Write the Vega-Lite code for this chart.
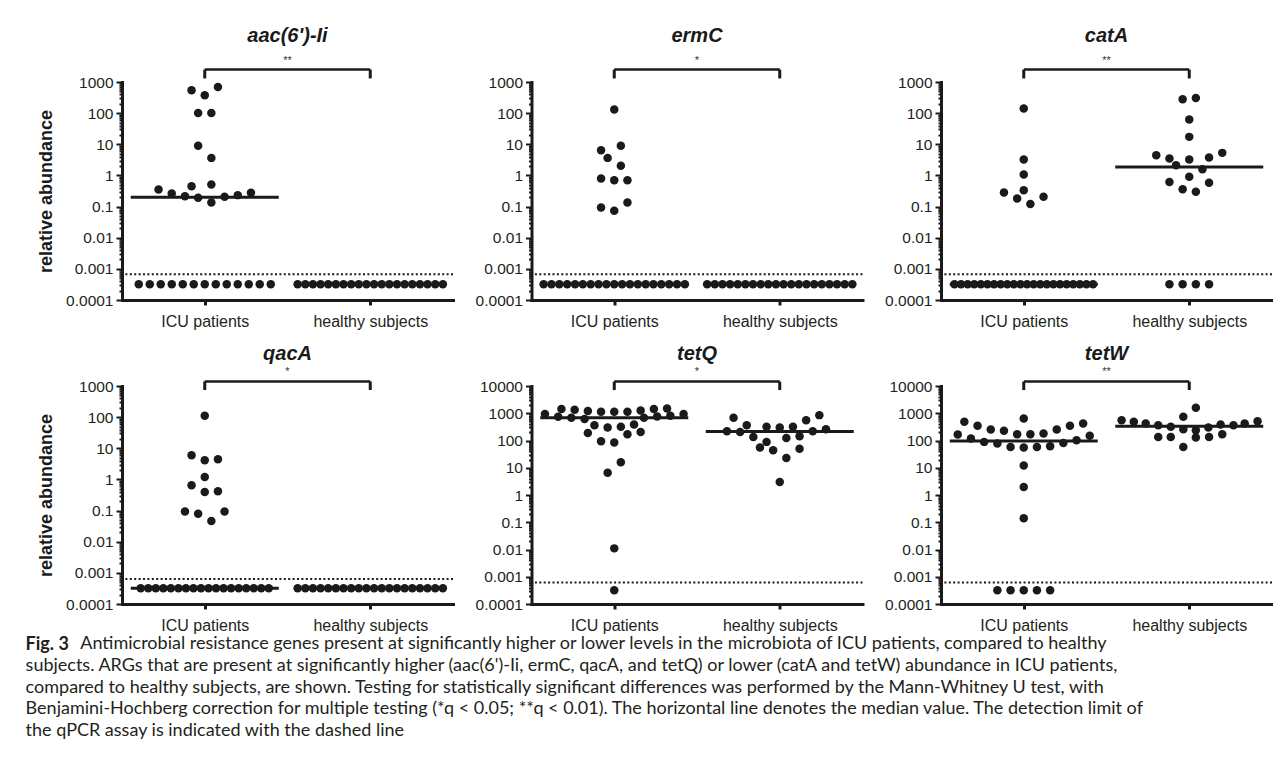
{
  "$schema": "https://vega.github.io/schema/vega-lite/v6.json",
  "background": "white",
  "padding": {"left": 25, "top": 26, "right": 0, "bottom": 0},
  "datasets": {
    "points": [
      {"gene":"aac","group":"ICU patients","value":542,"swarm":-2},
      {"gene":"aac","group":"ICU patients","value":375,"swarm":0},
      {"gene":"aac","group":"ICU patients","value":692,"swarm":2},
      {"gene":"aac","group":"ICU patients","value":101,"swarm":-1},
      {"gene":"aac","group":"ICU patients","value":101,"swarm":1},
      {"gene":"aac","group":"ICU patients","value":8.9,"swarm":-1},
      {"gene":"aac","group":"ICU patients","value":3.66,"swarm":1},
      {"gene":"aac","group":"ICU patients","value":0.355,"swarm":-7},
      {"gene":"aac","group":"ICU patients","value":0.264,"swarm":-5},
      {"gene":"aac","group":"ICU patients","value":0.216,"swarm":-3},
      {"gene":"aac","group":"ICU patients","value":0.453,"swarm":-2},
      {"gene":"aac","group":"ICU patients","value":0.191,"swarm":-1},
      {"gene":"aac","group":"ICU patients","value":0.513,"swarm":1},
      {"gene":"aac","group":"ICU patients","value":0.136,"swarm":1},
      {"gene":"aac","group":"ICU patients","value":0.206,"swarm":3},
      {"gene":"aac","group":"ICU patients","value":0.233,"swarm":5},
      {"gene":"aac","group":"ICU patients","value":0.276,"swarm":7},
      {"gene":"aac","group":"ICU patients","value":0.00032,"swarm":-10},
      {"gene":"aac","group":"ICU patients","value":0.00032,"swarm":-8.33},
      {"gene":"aac","group":"ICU patients","value":0.00032,"swarm":-6.67},
      {"gene":"aac","group":"ICU patients","value":0.00032,"swarm":-5},
      {"gene":"aac","group":"ICU patients","value":0.00032,"swarm":-3.33},
      {"gene":"aac","group":"ICU patients","value":0.00032,"swarm":-1.67},
      {"gene":"aac","group":"ICU patients","value":0.00032,"swarm":0},
      {"gene":"aac","group":"ICU patients","value":0.00032,"swarm":1.67},
      {"gene":"aac","group":"ICU patients","value":0.00032,"swarm":3.33},
      {"gene":"aac","group":"ICU patients","value":0.00032,"swarm":5},
      {"gene":"aac","group":"ICU patients","value":0.00032,"swarm":6.67},
      {"gene":"aac","group":"ICU patients","value":0.00032,"swarm":8.33},
      {"gene":"aac","group":"ICU patients","value":0.00032,"swarm":10},
      {"gene":"aac","group":"healthy subjects","value":0.00032,"swarm":-11},
      {"gene":"aac","group":"healthy subjects","value":0.00032,"swarm":-9.84},
      {"gene":"aac","group":"healthy subjects","value":0.00032,"swarm":-8.68},
      {"gene":"aac","group":"healthy subjects","value":0.00032,"swarm":-7.53},
      {"gene":"aac","group":"healthy subjects","value":0.00032,"swarm":-6.37},
      {"gene":"aac","group":"healthy subjects","value":0.00032,"swarm":-5.21},
      {"gene":"aac","group":"healthy subjects","value":0.00032,"swarm":-4.05},
      {"gene":"aac","group":"healthy subjects","value":0.00032,"swarm":-2.89},
      {"gene":"aac","group":"healthy subjects","value":0.00032,"swarm":-1.74},
      {"gene":"aac","group":"healthy subjects","value":0.00032,"swarm":-0.58},
      {"gene":"aac","group":"healthy subjects","value":0.00032,"swarm":0.58},
      {"gene":"aac","group":"healthy subjects","value":0.00032,"swarm":1.74},
      {"gene":"aac","group":"healthy subjects","value":0.00032,"swarm":2.89},
      {"gene":"aac","group":"healthy subjects","value":0.00032,"swarm":4.05},
      {"gene":"aac","group":"healthy subjects","value":0.00032,"swarm":5.21},
      {"gene":"aac","group":"healthy subjects","value":0.00032,"swarm":6.37},
      {"gene":"aac","group":"healthy subjects","value":0.00032,"swarm":7.53},
      {"gene":"aac","group":"healthy subjects","value":0.00032,"swarm":8.68},
      {"gene":"aac","group":"healthy subjects","value":0.00032,"swarm":9.84},
      {"gene":"aac","group":"healthy subjects","value":0.00032,"swarm":11},

      {"gene":"ermC","group":"ICU patients","value":130,"swarm":0},
      {"gene":"ermC","group":"ICU patients","value":6.46,"swarm":-2},
      {"gene":"ermC","group":"ICU patients","value":8.9,"swarm":1},
      {"gene":"ermC","group":"ICU patients","value":3.66,"swarm":-1},
      {"gene":"ermC","group":"ICU patients","value":2.03,"swarm":1},
      {"gene":"ermC","group":"ICU patients","value":0.8,"swarm":-2},
      {"gene":"ermC","group":"ICU patients","value":0.705,"swarm":0},
      {"gene":"ermC","group":"ICU patients","value":0.705,"swarm":2},
      {"gene":"ermC","group":"ICU patients","value":0.094,"swarm":-2},
      {"gene":"ermC","group":"ICU patients","value":0.073,"swarm":0},
      {"gene":"ermC","group":"ICU patients","value":0.136,"swarm":2},
      {"gene":"ermC","group":"ICU patients","value":0.00032,"swarm":-10.7},
      {"gene":"ermC","group":"ICU patients","value":0.00032,"swarm":-9.51},
      {"gene":"ermC","group":"ICU patients","value":0.00032,"swarm":-8.32},
      {"gene":"ermC","group":"ICU patients","value":0.00032,"swarm":-7.13},
      {"gene":"ermC","group":"ICU patients","value":0.00032,"swarm":-5.94},
      {"gene":"ermC","group":"ICU patients","value":0.00032,"swarm":-4.76},
      {"gene":"ermC","group":"ICU patients","value":0.00032,"swarm":-3.57},
      {"gene":"ermC","group":"ICU patients","value":0.00032,"swarm":-2.38},
      {"gene":"ermC","group":"ICU patients","value":0.00032,"swarm":-1.19},
      {"gene":"ermC","group":"ICU patients","value":0.00032,"swarm":0},
      {"gene":"ermC","group":"ICU patients","value":0.00032,"swarm":1.19},
      {"gene":"ermC","group":"ICU patients","value":0.00032,"swarm":2.38},
      {"gene":"ermC","group":"ICU patients","value":0.00032,"swarm":3.57},
      {"gene":"ermC","group":"ICU patients","value":0.00032,"swarm":4.76},
      {"gene":"ermC","group":"ICU patients","value":0.00032,"swarm":5.94},
      {"gene":"ermC","group":"ICU patients","value":0.00032,"swarm":7.13},
      {"gene":"ermC","group":"ICU patients","value":0.00032,"swarm":8.32},
      {"gene":"ermC","group":"ICU patients","value":0.00032,"swarm":9.51},
      {"gene":"ermC","group":"ICU patients","value":0.00032,"swarm":10.7},
      {"gene":"ermC","group":"healthy subjects","value":0.00032,"swarm":-11},
      {"gene":"ermC","group":"healthy subjects","value":0.00032,"swarm":-9.84},
      {"gene":"ermC","group":"healthy subjects","value":0.00032,"swarm":-8.68},
      {"gene":"ermC","group":"healthy subjects","value":0.00032,"swarm":-7.53},
      {"gene":"ermC","group":"healthy subjects","value":0.00032,"swarm":-6.37},
      {"gene":"ermC","group":"healthy subjects","value":0.00032,"swarm":-5.21},
      {"gene":"ermC","group":"healthy subjects","value":0.00032,"swarm":-4.05},
      {"gene":"ermC","group":"healthy subjects","value":0.00032,"swarm":-2.89},
      {"gene":"ermC","group":"healthy subjects","value":0.00032,"swarm":-1.74},
      {"gene":"ermC","group":"healthy subjects","value":0.00032,"swarm":-0.58},
      {"gene":"ermC","group":"healthy subjects","value":0.00032,"swarm":0.58},
      {"gene":"ermC","group":"healthy subjects","value":0.00032,"swarm":1.74},
      {"gene":"ermC","group":"healthy subjects","value":0.00032,"swarm":2.89},
      {"gene":"ermC","group":"healthy subjects","value":0.00032,"swarm":4.05},
      {"gene":"ermC","group":"healthy subjects","value":0.00032,"swarm":5.21},
      {"gene":"ermC","group":"healthy subjects","value":0.00032,"swarm":6.37},
      {"gene":"ermC","group":"healthy subjects","value":0.00032,"swarm":7.53},
      {"gene":"ermC","group":"healthy subjects","value":0.00032,"swarm":8.68},
      {"gene":"ermC","group":"healthy subjects","value":0.00032,"swarm":9.84},
      {"gene":"ermC","group":"healthy subjects","value":0.00032,"swarm":11},

      {"gene":"catA","group":"ICU patients","value":140,"swarm":0},
      {"gene":"catA","group":"ICU patients","value":3.25,"swarm":0},
      {"gene":"catA","group":"ICU patients","value":1.07,"swarm":0},
      {"gene":"catA","group":"ICU patients","value":0.337,"swarm":0},
      {"gene":"catA","group":"ICU patients","value":0.284,"swarm":-3},
      {"gene":"catA","group":"ICU patients","value":0.183,"swarm":-1},
      {"gene":"catA","group":"ICU patients","value":0.12,"swarm":1},
      {"gene":"catA","group":"ICU patients","value":0.206,"swarm":3},
      {"gene":"catA","group":"ICU patients","value":0.00032,"swarm":-10.5},
      {"gene":"catA","group":"ICU patients","value":0.00032,"swarm":-9.5},
      {"gene":"catA","group":"ICU patients","value":0.00032,"swarm":-8.5},
      {"gene":"catA","group":"ICU patients","value":0.00032,"swarm":-7.5},
      {"gene":"catA","group":"ICU patients","value":0.00032,"swarm":-6.5},
      {"gene":"catA","group":"ICU patients","value":0.00032,"swarm":-5.5},
      {"gene":"catA","group":"ICU patients","value":0.00032,"swarm":-4.5},
      {"gene":"catA","group":"ICU patients","value":0.00032,"swarm":-3.5},
      {"gene":"catA","group":"ICU patients","value":0.00032,"swarm":-2.5},
      {"gene":"catA","group":"ICU patients","value":0.00032,"swarm":-1.5},
      {"gene":"catA","group":"ICU patients","value":0.00032,"swarm":-0.5},
      {"gene":"catA","group":"ICU patients","value":0.00032,"swarm":0.5},
      {"gene":"catA","group":"ICU patients","value":0.00032,"swarm":1.5},
      {"gene":"catA","group":"ICU patients","value":0.00032,"swarm":2.5},
      {"gene":"catA","group":"ICU patients","value":0.00032,"swarm":3.5},
      {"gene":"catA","group":"ICU patients","value":0.00032,"swarm":4.5},
      {"gene":"catA","group":"ICU patients","value":0.00032,"swarm":5.5},
      {"gene":"catA","group":"ICU patients","value":0.00032,"swarm":6.5},
      {"gene":"catA","group":"ICU patients","value":0.00032,"swarm":7.5},
      {"gene":"catA","group":"ICU patients","value":0.00032,"swarm":8.5},
      {"gene":"catA","group":"ICU patients","value":0.00032,"swarm":9.5},
      {"gene":"catA","group":"ICU patients","value":0.00032,"swarm":10.5},
      {"gene":"catA","group":"healthy subjects","value":279,"swarm":-1},
      {"gene":"catA","group":"healthy subjects","value":307,"swarm":1},
      {"gene":"catA","group":"healthy subjects","value":62,"swarm":0},
      {"gene":"catA","group":"healthy subjects","value":17.3,"swarm":0},
      {"gene":"catA","group":"healthy subjects","value":4.47,"swarm":-5},
      {"gene":"catA","group":"healthy subjects","value":3.5,"swarm":-3},
      {"gene":"catA","group":"healthy subjects","value":3.25,"swarm":0},
      {"gene":"catA","group":"healthy subjects","value":3.77,"swarm":3},
      {"gene":"catA","group":"healthy subjects","value":5.3,"swarm":5},
      {"gene":"catA","group":"healthy subjects","value":2.13,"swarm":-2},
      {"gene":"catA","group":"healthy subjects","value":1.59,"swarm":2},
      {"gene":"catA","group":"healthy subjects","value":0.9,"swarm":0},
      {"gene":"catA","group":"healthy subjects","value":0.62,"swarm":-3},
      {"gene":"catA","group":"healthy subjects","value":0.58,"swarm":3},
      {"gene":"catA","group":"healthy subjects","value":0.363,"swarm":-1},
      {"gene":"catA","group":"healthy subjects","value":0.297,"swarm":1},
      {"gene":"catA","group":"healthy subjects","value":0.00032,"swarm":-3},
      {"gene":"catA","group":"healthy subjects","value":0.00032,"swarm":-1},
      {"gene":"catA","group":"healthy subjects","value":0.00032,"swarm":1},
      {"gene":"catA","group":"healthy subjects","value":0.00032,"swarm":3},

      {"gene":"qacA","group":"ICU patients","value":111,"swarm":0},
      {"gene":"qacA","group":"ICU patients","value":6.0,"swarm":-2},
      {"gene":"qacA","group":"ICU patients","value":4.14,"swarm":0},
      {"gene":"qacA","group":"ICU patients","value":4.46,"swarm":2},
      {"gene":"qacA","group":"ICU patients","value":1.2,"swarm":0},
      {"gene":"qacA","group":"ICU patients","value":0.65,"swarm":-2},
      {"gene":"qacA","group":"ICU patients","value":0.395,"swarm":0},
      {"gene":"qacA","group":"ICU patients","value":0.415,"swarm":2},
      {"gene":"qacA","group":"ICU patients","value":0.094,"swarm":-3},
      {"gene":"qacA","group":"ICU patients","value":0.079,"swarm":-1},
      {"gene":"qacA","group":"ICU patients","value":0.094,"swarm":3},
      {"gene":"qacA","group":"ICU patients","value":0.046,"swarm":1},
      {"gene":"qacA","group":"ICU patients","value":0.00032,"swarm":-9.7},
      {"gene":"qacA","group":"ICU patients","value":0.00032,"swarm":-8.56},
      {"gene":"qacA","group":"ICU patients","value":0.00032,"swarm":-7.42},
      {"gene":"qacA","group":"ICU patients","value":0.00032,"swarm":-6.28},
      {"gene":"qacA","group":"ICU patients","value":0.00032,"swarm":-5.14},
      {"gene":"qacA","group":"ICU patients","value":0.00032,"swarm":-3.99},
      {"gene":"qacA","group":"ICU patients","value":0.00032,"swarm":-2.85},
      {"gene":"qacA","group":"ICU patients","value":0.00032,"swarm":-1.71},
      {"gene":"qacA","group":"ICU patients","value":0.00032,"swarm":-0.57},
      {"gene":"qacA","group":"ICU patients","value":0.00032,"swarm":0.57},
      {"gene":"qacA","group":"ICU patients","value":0.00032,"swarm":1.71},
      {"gene":"qacA","group":"ICU patients","value":0.00032,"swarm":2.85},
      {"gene":"qacA","group":"ICU patients","value":0.00032,"swarm":3.99},
      {"gene":"qacA","group":"ICU patients","value":0.00032,"swarm":5.14},
      {"gene":"qacA","group":"ICU patients","value":0.00032,"swarm":6.28},
      {"gene":"qacA","group":"ICU patients","value":0.00032,"swarm":7.42},
      {"gene":"qacA","group":"ICU patients","value":0.00032,"swarm":8.56},
      {"gene":"qacA","group":"ICU patients","value":0.00032,"swarm":9.7},
      {"gene":"qacA","group":"healthy subjects","value":0.00032,"swarm":-11},
      {"gene":"qacA","group":"healthy subjects","value":0.00032,"swarm":-9.84},
      {"gene":"qacA","group":"healthy subjects","value":0.00032,"swarm":-8.68},
      {"gene":"qacA","group":"healthy subjects","value":0.00032,"swarm":-7.53},
      {"gene":"qacA","group":"healthy subjects","value":0.00032,"swarm":-6.37},
      {"gene":"qacA","group":"healthy subjects","value":0.00032,"swarm":-5.21},
      {"gene":"qacA","group":"healthy subjects","value":0.00032,"swarm":-4.05},
      {"gene":"qacA","group":"healthy subjects","value":0.00032,"swarm":-2.89},
      {"gene":"qacA","group":"healthy subjects","value":0.00032,"swarm":-1.74},
      {"gene":"qacA","group":"healthy subjects","value":0.00032,"swarm":-0.58},
      {"gene":"qacA","group":"healthy subjects","value":0.00032,"swarm":0.58},
      {"gene":"qacA","group":"healthy subjects","value":0.00032,"swarm":1.74},
      {"gene":"qacA","group":"healthy subjects","value":0.00032,"swarm":2.89},
      {"gene":"qacA","group":"healthy subjects","value":0.00032,"swarm":4.05},
      {"gene":"qacA","group":"healthy subjects","value":0.00032,"swarm":5.21},
      {"gene":"qacA","group":"healthy subjects","value":0.00032,"swarm":6.37},
      {"gene":"qacA","group":"healthy subjects","value":0.00032,"swarm":7.53},
      {"gene":"qacA","group":"healthy subjects","value":0.00032,"swarm":8.68},
      {"gene":"qacA","group":"healthy subjects","value":0.00032,"swarm":9.84},
      {"gene":"qacA","group":"healthy subjects","value":0.00032,"swarm":11},

      {"gene":"tetQ","group":"ICU patients","value":930,"swarm":-10.5},
      {"gene":"tetQ","group":"ICU patients","value":1420,"swarm":-8},
      {"gene":"tetQ","group":"ICU patients","value":1340,"swarm":-6},
      {"gene":"tetQ","group":"ICU patients","value":1200,"swarm":-4},
      {"gene":"tetQ","group":"ICU patients","value":1130,"swarm":-2},
      {"gene":"tetQ","group":"ICU patients","value":1130,"swarm":0},
      {"gene":"tetQ","group":"ICU patients","value":1130,"swarm":2},
      {"gene":"tetQ","group":"ICU patients","value":1270,"swarm":4},
      {"gene":"tetQ","group":"ICU patients","value":1420,"swarm":6},
      {"gene":"tetQ","group":"ICU patients","value":1500,"swarm":8},
      {"gene":"tetQ","group":"ICU patients","value":930,"swarm":10.5},
      {"gene":"tetQ","group":"ICU patients","value":740,"swarm":-8.5},
      {"gene":"tetQ","group":"ICU patients","value":680,"swarm":-6.5},
      {"gene":"tetQ","group":"ICU patients","value":610,"swarm":-4.5},
      {"gene":"tetQ","group":"ICU patients","value":680,"swarm":4.5},
      {"gene":"tetQ","group":"ICU patients","value":760,"swarm":6.5},
      {"gene":"tetQ","group":"ICU patients","value":805,"swarm":8.5},
      {"gene":"tetQ","group":"ICU patients","value":365,"swarm":-3},
      {"gene":"tetQ","group":"ICU patients","value":300,"swarm":-1},
      {"gene":"tetQ","group":"ICU patients","value":317,"swarm":1},
      {"gene":"tetQ","group":"ICU patients","value":390,"swarm":3},
      {"gene":"tetQ","group":"ICU patients","value":190,"swarm":-4},
      {"gene":"tetQ","group":"ICU patients","value":170,"swarm":2},
      {"gene":"tetQ","group":"ICU patients","value":207,"swarm":4},
      {"gene":"tetQ","group":"ICU patients","value":94,"swarm":-2},
      {"gene":"tetQ","group":"ICU patients","value":84,"swarm":0},
      {"gene":"tetQ","group":"ICU patients","value":16,"swarm":1},
      {"gene":"tetQ","group":"ICU patients","value":6.6,"swarm":-1},
      {"gene":"tetQ","group":"ICU patients","value":0.011,"swarm":0},
      {"gene":"tetQ","group":"ICU patients","value":0.00032,"swarm":0},
      {"gene":"tetQ","group":"healthy subjects","value":680,"swarm":-7},
      {"gene":"tetQ","group":"healthy subjects","value":365,"swarm":-5},
      {"gene":"tetQ","group":"healthy subjects","value":219,"swarm":-8},
      {"gene":"tetQ","group":"healthy subjects","value":207,"swarm":-6},
      {"gene":"tetQ","group":"healthy subjects","value":317,"swarm":-2},
      {"gene":"tetQ","group":"healthy subjects","value":300,"swarm":0},
      {"gene":"tetQ","group":"healthy subjects","value":317,"swarm":2},
      {"gene":"tetQ","group":"healthy subjects","value":558,"swarm":4},
      {"gene":"tetQ","group":"healthy subjects","value":853,"swarm":6},
      {"gene":"tetQ","group":"healthy subjects","value":260,"swarm":7},
      {"gene":"tetQ","group":"healthy subjects","value":219,"swarm":5},
      {"gene":"tetQ","group":"healthy subjects","value":135,"swarm":-4},
      {"gene":"tetQ","group":"healthy subjects","value":124,"swarm":1},
      {"gene":"tetQ","group":"healthy subjects","value":144,"swarm":3},
      {"gene":"tetQ","group":"healthy subjects","value":89,"swarm":-2},
      {"gene":"tetQ","group":"healthy subjects","value":55,"swarm":-3},
      {"gene":"tetQ","group":"healthy subjects","value":44,"swarm":-1},
      {"gene":"tetQ","group":"healthy subjects","value":50,"swarm":3},
      {"gene":"tetQ","group":"healthy subjects","value":23,"swarm":1},
      {"gene":"tetQ","group":"healthy subjects","value":3.0,"swarm":0},

      {"gene":"tetW","group":"ICU patients","value":484,"swarm":-9},
      {"gene":"tetW","group":"ICU patients","value":345,"swarm":-7},
      {"gene":"tetW","group":"ICU patients","value":253,"swarm":-5},
      {"gene":"tetW","group":"ICU patients","value":226,"swarm":-3},
      {"gene":"tetW","group":"ICU patients","value":170,"swarm":-1},
      {"gene":"tetW","group":"ICU patients","value":643,"swarm":0},
      {"gene":"tetW","group":"ICU patients","value":170,"swarm":1},
      {"gene":"tetW","group":"ICU patients","value":180,"swarm":3},
      {"gene":"tetW","group":"ICU patients","value":253,"swarm":5},
      {"gene":"tetW","group":"ICU patients","value":345,"swarm":7},
      {"gene":"tetW","group":"ICU patients","value":421,"swarm":9},
      {"gene":"tetW","group":"ICU patients","value":165,"swarm":-10},
      {"gene":"tetW","group":"ICU patients","value":118,"swarm":-8},
      {"gene":"tetW","group":"ICU patients","value":89,"swarm":-6},
      {"gene":"tetW","group":"ICU patients","value":77,"swarm":-4},
      {"gene":"tetW","group":"ICU patients","value":58,"swarm":-2},
      {"gene":"tetW","group":"ICU patients","value":55,"swarm":0},
      {"gene":"tetW","group":"ICU patients","value":58,"swarm":2},
      {"gene":"tetW","group":"ICU patients","value":61,"swarm":4},
      {"gene":"tetW","group":"ICU patients","value":81,"swarm":6},
      {"gene":"tetW","group":"ICU patients","value":102,"swarm":8},
      {"gene":"tetW","group":"ICU patients","value":148,"swarm":10},
      {"gene":"tetW","group":"ICU patients","value":12.2,"swarm":0},
      {"gene":"tetW","group":"ICU patients","value":1.95,"swarm":0},
      {"gene":"tetW","group":"ICU patients","value":0.14,"swarm":0},
      {"gene":"tetW","group":"ICU patients","value":0.00032,"swarm":-4},
      {"gene":"tetW","group":"ICU patients","value":0.00032,"swarm":-2},
      {"gene":"tetW","group":"ICU patients","value":0.00032,"swarm":0},
      {"gene":"tetW","group":"ICU patients","value":0.00032,"swarm":2},
      {"gene":"tetW","group":"ICU patients","value":0.00032,"swarm":4},
      {"gene":"tetW","group":"healthy subjects","value":558,"swarm":-10.25},
      {"gene":"tetW","group":"healthy subjects","value":484,"swarm":-8.4},
      {"gene":"tetW","group":"healthy subjects","value":421,"swarm":-6.6},
      {"gene":"tetW","group":"healthy subjects","value":365,"swarm":-4.7},
      {"gene":"tetW","group":"healthy subjects","value":317,"swarm":-2.8},
      {"gene":"tetW","group":"healthy subjects","value":260,"swarm":-0.9},
      {"gene":"tetW","group":"healthy subjects","value":741,"swarm":-0.9},
      {"gene":"tetW","group":"healthy subjects","value":1589,"swarm":1},
      {"gene":"tetW","group":"healthy subjects","value":239,"swarm":1},
      {"gene":"tetW","group":"healthy subjects","value":300,"swarm":2.9},
      {"gene":"tetW","group":"healthy subjects","value":387,"swarm":4.75},
      {"gene":"tetW","group":"healthy subjects","value":365,"swarm":6.7},
      {"gene":"tetW","group":"healthy subjects","value":421,"swarm":8.4},
      {"gene":"tetW","group":"healthy subjects","value":513,"swarm":10.35},
      {"gene":"tetW","group":"healthy subjects","value":135,"swarm":-4.7},
      {"gene":"tetW","group":"healthy subjects","value":135,"swarm":-2.8},
      {"gene":"tetW","group":"healthy subjects","value":58,"swarm":-0.9},
      {"gene":"tetW","group":"healthy subjects","value":128,"swarm":1},
      {"gene":"tetW","group":"healthy subjects","value":135,"swarm":3},
      {"gene":"tetW","group":"healthy subjects","value":170,"swarm":5}
    ],
    "medians": [
      {"gene":"aac","group":"ICU patients","value":0.2},
      {"gene":"catA","group":"ICU patients","value":0.00032},
      {"gene":"catA","group":"healthy subjects","value":1.86},
      {"gene":"qacA","group":"ICU patients","value":0.00032},
      {"gene":"tetQ","group":"ICU patients","value":680},
      {"gene":"tetQ","group":"healthy subjects","value":213},
      {"gene":"tetW","group":"ICU patients","value":96},
      {"gene":"tetW","group":"healthy subjects","value":335}
    ]
  },
  "concat": [
    {
      "title": {"text": "aac(6')-Ii", "offset": 9},
      "width": 331, "height": 218,
      "layer": [
        {
          "data": {"name": "points"},
          "transform": [{"filter": "datum.gene == 'aac'"}],
          "mark": {"type": "circle", "size": 72, "opacity": 1, "color": "#1a1a1a"},
          "encoding": {
            "x": {"field": "group", "type": "nominal", "scale": {"type": "point", "domain": ["ICU patients", "healthy subjects"], "padding": 0.5}, "axis": {"title": null}},
            "xOffset": {"field": "swarm", "type": "quantitative", "scale": {"domain": [-12, 12], "range": [-79.2, 79.2], "nice": false, "zero": false}},
            "y": {"field": "value", "type": "quantitative", "scale": {"type": "log", "domain": [0.0001, 1000], "nice": false},
              "axis": {"title": "relative abundance", "format": "~g", "labelOverlap": false,
                "values": [0.0001,0.0002,0.0003,0.0004,0.0005,0.0006,0.0007,0.0008,0.0009,0.001,0.002,0.003,0.004,0.005,0.006,0.007,0.008,0.009,0.01,0.02,0.03,0.04,0.05,0.06,0.07,0.08,0.09,0.1,0.2,0.3,0.4,0.5,0.6,0.7,0.8,0.9,1,2,3,4,5,6,7,8,9,10,20,30,40,50,60,70,80,90,100,200,300,400,500,600,700,800,900,1000],
                "labelExpr": "abs(log(datum.value)/LN10 - round(log(datum.value)/LN10)) < 0.001 ? datum.label : ''",
                "tickSize": {"condition": {"test": "abs(log(datum.value)/LN10 - round(log(datum.value)/LN10)) < 0.001", "value": 6}, "value": 3}}}
          }
        },
        {
          "data": {"name": "medians"},
          "transform": [{"filter": "datum.gene == 'aac'"}],
          "mark": {"type": "tick", "size": 148, "thickness": 3, "color": "#1a1a1a", "opacity": 1},
          "encoding": {"x": {"field": "group", "type": "nominal"}, "y": {"field": "value", "type": "quantitative"}}
        },
        {"data": {"values": [{}]}, "mark": {"type": "rule", "strokeDash": [2, 2.4], "strokeWidth": 2, "color": "#1a1a1a"}, "encoding": {"y": {"datum": 0.00067, "type": "quantitative"}}},
        {"data": {"values": [{}]}, "mark": {"type": "rule", "strokeWidth": 2.5, "color": "#1a1a1a"}, "encoding": {"x": {"datum": "ICU patients", "type": "nominal"}, "x2": {"datum": "healthy subjects"}, "y": {"datum": 2500, "type": "quantitative"}}},
        {"data": {"values": [{}]}, "mark": {"type": "rule", "strokeWidth": 3, "color": "#1a1a1a"}, "encoding": {"x": {"datum": "ICU patients", "type": "nominal"}, "y": {"datum": 2500, "type": "quantitative"}, "y2": {"datum": 1300}}},
        {"data": {"values": [{}]}, "mark": {"type": "rule", "strokeWidth": 3, "color": "#1a1a1a"}, "encoding": {"x": {"datum": "healthy subjects", "type": "nominal"}, "y": {"datum": 2500, "type": "quantitative"}, "y2": {"datum": 1300}}},
        {"data": {"values": [{}]}, "mark": {"type": "text", "text": "**", "fontSize": 11, "baseline": "middle", "color": "#333333", "dx": 82.75}, "encoding": {"x": {"datum": "ICU patients", "type": "nominal"}, "y": {"datum": 4700, "type": "quantitative"}}}
      ]
    },
    {
      "title": {"text": "ermC", "offset": 9},
      "width": 331, "height": 218,
      "layer": [
        {
          "data": {"name": "points"},
          "transform": [{"filter": "datum.gene == 'ermC'"}],
          "mark": {"type": "circle", "size": 72, "opacity": 1, "color": "#1a1a1a"},
          "encoding": {
            "x": {"field": "group", "type": "nominal", "scale": {"type": "point", "domain": ["ICU patients", "healthy subjects"], "padding": 0.5}, "axis": {"title": null}},
            "xOffset": {"field": "swarm", "type": "quantitative", "scale": {"domain": [-12, 12], "range": [-79.2, 79.2], "nice": false, "zero": false}},
            "y": {"field": "value", "type": "quantitative", "scale": {"type": "log", "domain": [0.0001, 1000], "nice": false},
              "axis": {"title": null, "format": "~g", "labelOverlap": false,
                "values": [0.0001,0.0002,0.0003,0.0004,0.0005,0.0006,0.0007,0.0008,0.0009,0.001,0.002,0.003,0.004,0.005,0.006,0.007,0.008,0.009,0.01,0.02,0.03,0.04,0.05,0.06,0.07,0.08,0.09,0.1,0.2,0.3,0.4,0.5,0.6,0.7,0.8,0.9,1,2,3,4,5,6,7,8,9,10,20,30,40,50,60,70,80,90,100,200,300,400,500,600,700,800,900,1000],
                "labelExpr": "abs(log(datum.value)/LN10 - round(log(datum.value)/LN10)) < 0.001 ? datum.label : ''",
                "tickSize": {"condition": {"test": "abs(log(datum.value)/LN10 - round(log(datum.value)/LN10)) < 0.001", "value": 6}, "value": 3}}}
          }
        },
        {"data": {"values": [{}]}, "mark": {"type": "rule", "strokeDash": [2, 2.4], "strokeWidth": 2, "color": "#1a1a1a"}, "encoding": {"y": {"datum": 0.00067, "type": "quantitative"}}},
        {"data": {"values": [{}]}, "mark": {"type": "rule", "strokeWidth": 2.5, "color": "#1a1a1a"}, "encoding": {"x": {"datum": "ICU patients", "type": "nominal"}, "x2": {"datum": "healthy subjects"}, "y": {"datum": 2500, "type": "quantitative"}}},
        {"data": {"values": [{}]}, "mark": {"type": "rule", "strokeWidth": 3, "color": "#1a1a1a"}, "encoding": {"x": {"datum": "ICU patients", "type": "nominal"}, "y": {"datum": 2500, "type": "quantitative"}, "y2": {"datum": 1300}}},
        {"data": {"values": [{}]}, "mark": {"type": "rule", "strokeWidth": 3, "color": "#1a1a1a"}, "encoding": {"x": {"datum": "healthy subjects", "type": "nominal"}, "y": {"datum": 2500, "type": "quantitative"}, "y2": {"datum": 1300}}},
        {"data": {"values": [{}]}, "mark": {"type": "text", "text": "*", "fontSize": 11, "baseline": "middle", "color": "#333333", "dx": 82.75}, "encoding": {"x": {"datum": "ICU patients", "type": "nominal"}, "y": {"datum": 4700, "type": "quantitative"}}}
      ]
    },
    {
      "title": {"text": "catA", "offset": 9},
      "width": 331, "height": 218,
      "layer": [
        {
          "data": {"name": "points"},
          "transform": [{"filter": "datum.gene == 'catA'"}],
          "mark": {"type": "circle", "size": 72, "opacity": 1, "color": "#1a1a1a"},
          "encoding": {
            "x": {"field": "group", "type": "nominal", "scale": {"type": "point", "domain": ["ICU patients", "healthy subjects"], "padding": 0.5}, "axis": {"title": null}},
            "xOffset": {"field": "swarm", "type": "quantitative", "scale": {"domain": [-12, 12], "range": [-79.2, 79.2], "nice": false, "zero": false}},
            "y": {"field": "value", "type": "quantitative", "scale": {"type": "log", "domain": [0.0001, 1000], "nice": false},
              "axis": {"title": null, "format": "~g", "labelOverlap": false,
                "values": [0.0001,0.0002,0.0003,0.0004,0.0005,0.0006,0.0007,0.0008,0.0009,0.001,0.002,0.003,0.004,0.005,0.006,0.007,0.008,0.009,0.01,0.02,0.03,0.04,0.05,0.06,0.07,0.08,0.09,0.1,0.2,0.3,0.4,0.5,0.6,0.7,0.8,0.9,1,2,3,4,5,6,7,8,9,10,20,30,40,50,60,70,80,90,100,200,300,400,500,600,700,800,900,1000],
                "labelExpr": "abs(log(datum.value)/LN10 - round(log(datum.value)/LN10)) < 0.001 ? datum.label : ''",
                "tickSize": {"condition": {"test": "abs(log(datum.value)/LN10 - round(log(datum.value)/LN10)) < 0.001", "value": 6}, "value": 3}}}
          }
        },
        {
          "data": {"name": "medians"},
          "transform": [{"filter": "datum.gene == 'catA'"}],
          "mark": {"type": "tick", "size": 148, "thickness": 3, "color": "#1a1a1a", "opacity": 1},
          "encoding": {"x": {"field": "group", "type": "nominal"}, "y": {"field": "value", "type": "quantitative"}}
        },
        {"data": {"values": [{}]}, "mark": {"type": "rule", "strokeDash": [2, 2.4], "strokeWidth": 2, "color": "#1a1a1a"}, "encoding": {"y": {"datum": 0.00067, "type": "quantitative"}}},
        {"data": {"values": [{}]}, "mark": {"type": "rule", "strokeWidth": 2.5, "color": "#1a1a1a"}, "encoding": {"x": {"datum": "ICU patients", "type": "nominal"}, "x2": {"datum": "healthy subjects"}, "y": {"datum": 2500, "type": "quantitative"}}},
        {"data": {"values": [{}]}, "mark": {"type": "rule", "strokeWidth": 3, "color": "#1a1a1a"}, "encoding": {"x": {"datum": "ICU patients", "type": "nominal"}, "y": {"datum": 2500, "type": "quantitative"}, "y2": {"datum": 1300}}},
        {"data": {"values": [{}]}, "mark": {"type": "rule", "strokeWidth": 3, "color": "#1a1a1a"}, "encoding": {"x": {"datum": "healthy subjects", "type": "nominal"}, "y": {"datum": 2500, "type": "quantitative"}, "y2": {"datum": 1300}}},
        {"data": {"values": [{}]}, "mark": {"type": "text", "text": "**", "fontSize": 11, "baseline": "middle", "color": "#333333", "dx": 82.75}, "encoding": {"x": {"datum": "ICU patients", "type": "nominal"}, "y": {"datum": 4700, "type": "quantitative"}}}
      ]
    },
    {
      "title": {"text": "qacA", "offset": 2},
      "width": 331, "height": 218,
      "layer": [
        {
          "data": {"name": "points"},
          "transform": [{"filter": "datum.gene == 'qacA'"}],
          "mark": {"type": "circle", "size": 72, "opacity": 1, "color": "#1a1a1a"},
          "encoding": {
            "x": {"field": "group", "type": "nominal", "scale": {"type": "point", "domain": ["ICU patients", "healthy subjects"], "padding": 0.5}, "axis": {"title": null}},
            "xOffset": {"field": "swarm", "type": "quantitative", "scale": {"domain": [-12, 12], "range": [-79.2, 79.2], "nice": false, "zero": false}},
            "y": {"field": "value", "type": "quantitative", "scale": {"type": "log", "domain": [0.0001, 1000], "nice": false},
              "axis": {"title": "relative abundance", "format": "~g", "labelOverlap": false,
                "values": [0.0001,0.0002,0.0003,0.0004,0.0005,0.0006,0.0007,0.0008,0.0009,0.001,0.002,0.003,0.004,0.005,0.006,0.007,0.008,0.009,0.01,0.02,0.03,0.04,0.05,0.06,0.07,0.08,0.09,0.1,0.2,0.3,0.4,0.5,0.6,0.7,0.8,0.9,1,2,3,4,5,6,7,8,9,10,20,30,40,50,60,70,80,90,100,200,300,400,500,600,700,800,900,1000],
                "labelExpr": "abs(log(datum.value)/LN10 - round(log(datum.value)/LN10)) < 0.001 ? datum.label : ''",
                "tickSize": {"condition": {"test": "abs(log(datum.value)/LN10 - round(log(datum.value)/LN10)) < 0.001", "value": 6}, "value": 3}}}
          }
        },
        {
          "data": {"name": "medians"},
          "transform": [{"filter": "datum.gene == 'qacA'"}],
          "mark": {"type": "tick", "size": 148, "thickness": 3, "color": "#1a1a1a", "opacity": 1},
          "encoding": {"x": {"field": "group", "type": "nominal"}, "y": {"field": "value", "type": "quantitative"}}
        },
        {"data": {"values": [{}]}, "mark": {"type": "rule", "strokeDash": [2, 2.4], "strokeWidth": 2, "color": "#1a1a1a"}, "encoding": {"y": {"datum": 0.00064, "type": "quantitative"}}},
        {"data": {"values": [{}]}, "mark": {"type": "rule", "strokeWidth": 2.5, "color": "#1a1a1a"}, "encoding": {"x": {"datum": "ICU patients", "type": "nominal"}, "x2": {"datum": "healthy subjects"}, "y": {"datum": 1400, "type": "quantitative"}}},
        {"data": {"values": [{}]}, "mark": {"type": "rule", "strokeWidth": 3, "color": "#1a1a1a"}, "encoding": {"x": {"datum": "ICU patients", "type": "nominal"}, "y": {"datum": 1400, "type": "quantitative"}, "y2": {"datum": 743}}},
        {"data": {"values": [{}]}, "mark": {"type": "rule", "strokeWidth": 3, "color": "#1a1a1a"}, "encoding": {"x": {"datum": "healthy subjects", "type": "nominal"}, "y": {"datum": 1400, "type": "quantitative"}, "y2": {"datum": 743}}},
        {"data": {"values": [{}]}, "mark": {"type": "text", "text": "*", "fontSize": 11, "baseline": "middle", "color": "#333333", "dx": 82.75}, "encoding": {"x": {"datum": "ICU patients", "type": "nominal"}, "y": {"datum": 2900, "type": "quantitative"}}}
      ]
    },
    {
      "title": {"text": "tetQ", "offset": 2},
      "width": 331, "height": 218,
      "layer": [
        {
          "data": {"name": "points"},
          "transform": [{"filter": "datum.gene == 'tetQ'"}],
          "mark": {"type": "circle", "size": 72, "opacity": 1, "color": "#1a1a1a"},
          "encoding": {
            "x": {"field": "group", "type": "nominal", "scale": {"type": "point", "domain": ["ICU patients", "healthy subjects"], "padding": 0.5}, "axis": {"title": null}},
            "xOffset": {"field": "swarm", "type": "quantitative", "scale": {"domain": [-12, 12], "range": [-79.2, 79.2], "nice": false, "zero": false}},
            "y": {"field": "value", "type": "quantitative", "scale": {"type": "log", "domain": [0.0001, 10000], "nice": false},
              "axis": {"title": null, "format": "~g", "labelOverlap": false,
                "values": [0.0001,0.0002,0.0003,0.0004,0.0005,0.0006,0.0007,0.0008,0.0009,0.001,0.002,0.003,0.004,0.005,0.006,0.007,0.008,0.009,0.01,0.02,0.03,0.04,0.05,0.06,0.07,0.08,0.09,0.1,0.2,0.3,0.4,0.5,0.6,0.7,0.8,0.9,1,2,3,4,5,6,7,8,9,10,20,30,40,50,60,70,80,90,100,200,300,400,500,600,700,800,900,1000,2000,3000,4000,5000,6000,7000,8000,9000,10000],
                "labelExpr": "abs(log(datum.value)/LN10 - round(log(datum.value)/LN10)) < 0.001 ? datum.label : ''",
                "tickSize": {"condition": {"test": "abs(log(datum.value)/LN10 - round(log(datum.value)/LN10)) < 0.001", "value": 6}, "value": 3}}}
          }
        },
        {
          "data": {"name": "medians"},
          "transform": [{"filter": "datum.gene == 'tetQ'"}],
          "mark": {"type": "tick", "size": 148, "thickness": 3, "color": "#1a1a1a", "opacity": 1},
          "encoding": {"x": {"field": "group", "type": "nominal"}, "y": {"field": "value", "type": "quantitative"}}
        },
        {"data": {"values": [{}]}, "mark": {"type": "rule", "strokeDash": [2, 2.4], "strokeWidth": 2, "color": "#1a1a1a"}, "encoding": {"y": {"datum": 0.00061, "type": "quantitative"}}},
        {"data": {"values": [{}]}, "mark": {"type": "rule", "strokeWidth": 2.5, "color": "#1a1a1a"}, "encoding": {"x": {"datum": "ICU patients", "type": "nominal"}, "x2": {"datum": "healthy subjects"}, "y": {"datum": 14500, "type": "quantitative"}}},
        {"data": {"values": [{}]}, "mark": {"type": "rule", "strokeWidth": 3, "color": "#1a1a1a"}, "encoding": {"x": {"datum": "ICU patients", "type": "nominal"}, "y": {"datum": 14500, "type": "quantitative"}, "y2": {"datum": 7100}}},
        {"data": {"values": [{}]}, "mark": {"type": "rule", "strokeWidth": 3, "color": "#1a1a1a"}, "encoding": {"x": {"datum": "healthy subjects", "type": "nominal"}, "y": {"datum": 14500, "type": "quantitative"}, "y2": {"datum": 7100}}},
        {"data": {"values": [{}]}, "mark": {"type": "text", "text": "*", "fontSize": 11, "baseline": "middle", "color": "#333333", "dx": 82.75}, "encoding": {"x": {"datum": "ICU patients", "type": "nominal"}, "y": {"datum": 33000, "type": "quantitative"}}}
      ]
    },
    {
      "title": {"text": "tetW", "offset": 2},
      "width": 331, "height": 218,
      "layer": [
        {
          "data": {"name": "points"},
          "transform": [{"filter": "datum.gene == 'tetW'"}],
          "mark": {"type": "circle", "size": 72, "opacity": 1, "color": "#1a1a1a"},
          "encoding": {
            "x": {"field": "group", "type": "nominal", "scale": {"type": "point", "domain": ["ICU patients", "healthy subjects"], "padding": 0.5}, "axis": {"title": null}},
            "xOffset": {"field": "swarm", "type": "quantitative", "scale": {"domain": [-12, 12], "range": [-79.2, 79.2], "nice": false, "zero": false}},
            "y": {"field": "value", "type": "quantitative", "scale": {"type": "log", "domain": [0.0001, 10000], "nice": false},
              "axis": {"title": null, "format": "~g", "labelOverlap": false,
                "values": [0.0001,0.0002,0.0003,0.0004,0.0005,0.0006,0.0007,0.0008,0.0009,0.001,0.002,0.003,0.004,0.005,0.006,0.007,0.008,0.009,0.01,0.02,0.03,0.04,0.05,0.06,0.07,0.08,0.09,0.1,0.2,0.3,0.4,0.5,0.6,0.7,0.8,0.9,1,2,3,4,5,6,7,8,9,10,20,30,40,50,60,70,80,90,100,200,300,400,500,600,700,800,900,1000,2000,3000,4000,5000,6000,7000,8000,9000,10000],
                "labelExpr": "abs(log(datum.value)/LN10 - round(log(datum.value)/LN10)) < 0.001 ? datum.label : ''",
                "tickSize": {"condition": {"test": "abs(log(datum.value)/LN10 - round(log(datum.value)/LN10)) < 0.001", "value": 6}, "value": 3}}}
          }
        },
        {
          "data": {"name": "medians"},
          "transform": [{"filter": "datum.gene == 'tetW'"}],
          "mark": {"type": "tick", "size": 148, "thickness": 3, "color": "#1a1a1a", "opacity": 1},
          "encoding": {"x": {"field": "group", "type": "nominal"}, "y": {"field": "value", "type": "quantitative"}}
        },
        {"data": {"values": [{}]}, "mark": {"type": "rule", "strokeDash": [2, 2.4], "strokeWidth": 2, "color": "#1a1a1a"}, "encoding": {"y": {"datum": 0.00061, "type": "quantitative"}}},
        {"data": {"values": [{}]}, "mark": {"type": "rule", "strokeWidth": 2.5, "color": "#1a1a1a"}, "encoding": {"x": {"datum": "ICU patients", "type": "nominal"}, "x2": {"datum": "healthy subjects"}, "y": {"datum": 14500, "type": "quantitative"}}},
        {"data": {"values": [{}]}, "mark": {"type": "rule", "strokeWidth": 3, "color": "#1a1a1a"}, "encoding": {"x": {"datum": "ICU patients", "type": "nominal"}, "y": {"datum": 14500, "type": "quantitative"}, "y2": {"datum": 7100}}},
        {"data": {"values": [{}]}, "mark": {"type": "rule", "strokeWidth": 3, "color": "#1a1a1a"}, "encoding": {"x": {"datum": "healthy subjects", "type": "nominal"}, "y": {"datum": 14500, "type": "quantitative"}, "y2": {"datum": 7100}}},
        {"data": {"values": [{}]}, "mark": {"type": "text", "text": "**", "fontSize": 11, "baseline": "middle", "color": "#333333", "dx": 82.75}, "encoding": {"x": {"datum": "ICU patients", "type": "nominal"}, "y": {"datum": 33000, "type": "quantitative"}}}
      ]
    }
  ],
  "columns": 3,
  "bounds": "flush",
  "spacing": {"row": 86, "column": 78.5},
  "title": {
    "text": "Fig. 3",
    "subtitle": [
      "\u200b\u00a0\u00a0\u00a0\u00a0\u00a0\u00a0\u00a0\u00a0\u00a0\u00a0\u00a0\u00a0Antimicrobial resistance genes present at significantly higher or lower levels in the microbiota of ICU patients, compared to healthy",
      "subjects. ARGs that are present at significantly higher (aac(6')-Ii, ermC, qacA, and tetQ) or lower (catA and tetW) abundance in ICU patients,",
      "compared to healthy subjects, are shown. Testing for statistically significant differences was performed by the Mann-Whitney U test, with",
      "Benjamini-Hochberg correction for multiple testing (*q < 0.05; **q < 0.01). The horizontal line denotes the median value. The detection limit of",
      "the qPCR assay is indicated with the dashed line"
    ],
    "orient": "bottom",
    "anchor": "start",
    "frame": "bounds",
    "offset": 3,
    "dx": -12,
    "font": "Lato",
    "fontSize": 18,
    "fontStyle": "normal",
    "fontWeight": "bold",
    "color": "#231f20",
    "subtitleFont": "Lato",
    "subtitleFontSize": 18,
    "subtitleFontStyle": "normal",
    "subtitleFontWeight": "normal",
    "subtitleColor": "#231f20",
    "subtitleLineHeight": 21.6,
    "subtitlePadding": -18.6
  },
  "config": {
    "view": {"stroke": null},
    "font": "Liberation Sans",
    "axis": {"grid": false, "domainColor": "#1a1a1a", "domainWidth": 3, "domainCap": "square", "tickColor": "#1a1a1a", "labelColor": "#231f20", "labelFont": "Liberation Sans", "titleFont": "Liberation Sans", "titleColor": "#1a1a1a", "labelFlush": false},
    "axisX": {"tickSize": 5, "tickWidth": 3, "labelFontSize": 16, "labelPadding": 8, "labelAngle": 0},
    "axisY": {"tickWidth": 2, "labelFontSize": 15.5, "labelPadding": 3, "titleFontSize": 18, "titleFontWeight": "bold", "titlePadding": 10},
    "title": {"font": "Liberation Sans", "fontSize": 20, "fontStyle": "italic", "fontWeight": "bold", "color": "#1a1a1a", "frame": "group"}
  }
}
